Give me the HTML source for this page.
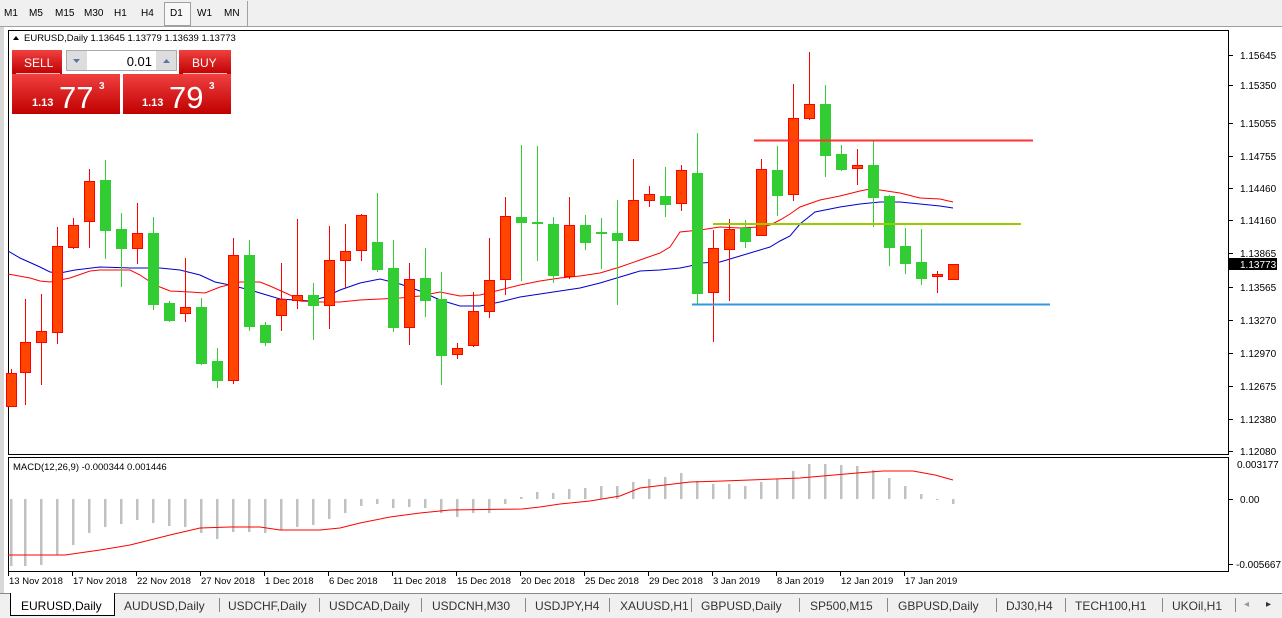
<!DOCTYPE html>
<html><head><meta charset="utf-8"><style>
body{margin:0;width:1282px;height:617px;overflow:hidden;background:#fff;font-family:"Liberation Sans",sans-serif;position:relative}
.tb{position:absolute;left:0;top:0;width:1282px;height:26px;background:#f0f0f0;border-bottom:1px solid #a0a0a0}
.tb span{position:absolute;top:8px;font-size:10px;color:#000}
.d1{position:absolute;left:164px;top:2px;width:25px;height:22px;border:1px solid #a0a0a0;background:#f8f8f8}
.tabs{position:absolute;left:0;top:593px;width:1282px;height:24px;background:#f0f0f0;border-top:1px solid #888}
.tabs span{position:absolute;top:5px;font-size:12px;color:#333}
.sep{position:absolute;top:4px;width:1px;height:14px;background:#888}
</style></head><body>
<div class="tb">
<span style="left:4px">M1</span><span style="left:29px">M5</span><span style="left:55px">M15</span><span style="left:84px">M30</span><span style="left:114px">H1</span><span style="left:141px">H4</span>
<div class="d1"></div><span style="left:170px">D1</span><span style="left:197px">W1</span><span style="left:224px">MN</span>
<div style="position:absolute;left:247px;top:1px;width:1px;height:25px;background:#a0a0a0"></div>
</div>
<div style="position:absolute;left:0;top:27px;width:4px;height:566px;background:#d8d8d8"></div>
<svg id="s" width="1282" height="617" style="position:absolute;left:0;top:0" font-family="Liberation Sans, sans-serif">
<rect x="8.5" y="30.5" width="1220" height="424" fill="#fff" stroke="#000"/>
<rect x="8.5" y="457.5" width="1220" height="114" fill="#fff" stroke="#000"/>
<g id="g"></g>
<rect x="1229" y="258" width="48" height="12" fill="#000"/>
<text x="1240" y="268" font-size="10" fill="#fff">1.13773</text>
<text x="24" y="41" font-size="9.5" fill="#000">EURUSD,Daily  1.13645 1.13779 1.13639 1.13773</text>
<polygon points="13,40 19,40 16,36" fill="#000"/>
<text x="13" y="470" font-size="9.5" fill="#000">MACD(12,26,9) -0.000344 0.001446</text>
<defs><linearGradient id="rg" x1="0" y1="0" x2="0" y2="1"><stop offset="0" stop-color="#f04040"/><stop offset="1" stop-color="#c00000"/></linearGradient></defs>
<rect x="12" y="50" width="50" height="24" fill="url(#rg)"/>
<rect x="179" y="50" width="52" height="24" fill="url(#rg)"/>
<rect x="12" y="74" width="108" height="40" fill="url(#rg)"/>
<rect x="123" y="74" width="108" height="40" fill="url(#rg)"/>
<line x1="16" y1="73.5" x2="60" y2="73.5" stroke="#fbb"/><line x1="183" y1="73.5" x2="227" y2="73.5" stroke="#fbb"/>
<rect x="66.5" y="50.5" width="110" height="20" fill="#fff" stroke="#aaa"/>
<rect x="67" y="51" width="20" height="19" fill="#ddd"/><rect x="156" y="51" width="20" height="19" fill="#ddd"/>
<polygon points="73,59 80,59 76.5,63" fill="#57a"/><polygon points="163,63 170,63 166.5,59" fill="#57a"/>
<text x="24" y="67" font-size="12" fill="#fff">SELL</text>
<text x="192" y="67" font-size="12" fill="#fff">BUY</text>
<text x="152" y="66" font-size="13" fill="#000" text-anchor="end">0.01</text>
<text x="32" y="106" font-size="11" font-weight="bold" fill="#fff">1.13</text>
<text x="59" y="108" font-size="31" fill="#fff">77</text>
<text x="99" y="89" font-size="10" font-weight="bold" fill="#fff">3</text>
<text x="142" y="106" font-size="11" font-weight="bold" fill="#fff">1.13</text>
<text x="169" y="108" font-size="31" fill="#fff">79</text>
<text x="209" y="89" font-size="10" font-weight="bold" fill="#fff">3</text>
</svg>
<div class="tabs">
<div style="position:absolute;left:10px;top:-1px;width:103px;height:22px;background:#fff;border:1px solid #000;border-top:none"></div>
<span style="left:21px;color:#000">EURUSD,Daily</span>
<span style="left:124px">AUDUSD,Daily</span><div class="sep" style="left:219px"></div>
<span style="left:228px">USDCHF,Daily</span><div class="sep" style="left:319px"></div>
<span style="left:329px">USDCAD,Daily</span><div class="sep" style="left:421px"></div>
<span style="left:432px">USDCNH,M30</span><div class="sep" style="left:525px"></div>
<span style="left:535px">USDJPY,H4</span><div class="sep" style="left:609px"></div>
<span style="left:620px">XAUUSD,H1</span><div class="sep" style="left:691px"></div>
<span style="left:701px">GBPUSD,Daily</span><div class="sep" style="left:799px"></div>
<span style="left:810px">SP500,M15</span><div class="sep" style="left:887px"></div>
<span style="left:898px">GBPUSD,Daily</span><div class="sep" style="left:996px"></div>
<span style="left:1006px">DJ30,H4</span><div class="sep" style="left:1065px"></div>
<span style="left:1075px">TECH100,H1</span><div class="sep" style="left:1162px"></div>
<span style="left:1172px">UKOil,H1</span><div class="sep" style="left:1235px"></div>
<span style="left:1244px;color:#999;font-size:10px">◂</span><span style="left:1266px;font-size:10px">▸</span>
</div>
<script>
var C=[[11,373,406,369,406,1],[25,342,372,299,405,1],[41,331,342,294,385,1],[57,246,332,227,344,1],[73,225,247,218,249,1],[89,181,221,169,248,1],[105,180,230,160,259,0],[121,229,248,213,287,0],[137,233,248,203,264,1],[153,233,304,217,310,0],[169,303,320,301,322,0],[185,307,313,258,322,1],[201,307,363,298,365,0],[217,361,380,348,388,0],[233,255,380,238,384,1],[249,255,326,240,331,0],[265,325,342,322,346,0],[281,299,315,263,331,1],[297,295,300,219,309,1],[313,295,305,283,340,0],[329,260,305,226,329,1],[345,251,260,224,288,1],[361,215,250,214,261,1],[377,242,269,193,272,0],[393,268,327,240,332,0],[409,279,327,263,345,1],[425,278,300,248,317,0],[441,299,355,272,385,0],[457,348,354,343,359,1],[473,311,345,292,347,1],[489,280,311,238,318,1],[505,216,279,197,295,1],[521,217,222,145,281,0],[537,222,223,146,261,0],[553,224,275,217,283,0],[569,225,276,197,279,1],[585,225,242,215,250,0],[601,232,233,218,269,0],[617,233,240,200,305,0],[633,200,240,159,240,1],[649,194,200,186,207,1],[665,196,204,167,217,0],[681,170,203,165,211,1],[697,173,293,133,304,0],[713,248,292,230,342,1],[729,229,249,219,301,1],[745,228,241,220,248,0],[761,169,235,159,235,1],[777,170,195,146,216,0],[793,118,194,84,201,1],[809,104,118,52,120,1],[825,104,155,85,177,0],[841,154,169,145,171,0],[857,165,168,149,185,1],[873,165,197,141,227,0],[889,196,247,195,266,0],[905,246,263,228,274,0],[921,262,278,229,285,0],[937,274,276,271,293,1],[953,264,279,264,279,1]];
var H=[[11,566],[25,566],[41,565],[57,555],[73,545],[89,533],[105,527],[121,524],[137,520],[153,523],[169,526],[185,527],[201,533],[217,539],[233,532],[249,532],[265,533],[281,530],[297,527],[313,525],[329,519],[345,513],[361,506],[377,504],[393,508],[409,507],[425,508],[441,513],[457,517],[473,513],[489,513],[505,504],[521,497],[537,492],[553,493],[569,489],[585,488],[601,486],[617,486],[633,482],[649,479],[665,477],[681,473],[697,481],[713,484],[729,484],[745,486],[761,482],[777,479],[793,471],[809,464],[825,464],[841,465],[857,466],[873,470],[889,478],[905,486],[921,494],[937,499],[953,504]];
var s='',Z=499;
H.forEach(function(h){var a=Math.min(h[1],Z),b=Math.max(h[1],Z);s+='<rect x="'+(h[0]-1)+'" y="'+a+'" width="2.5" height="'+Math.max(1,b-a)+'" fill="#c0c0c0"/>';});
s+='<polyline fill="none" stroke="#f00" points="8,555 65,555 100,550 130,545 150,540 170,535 200,528 230,527 260,527 280,530 320,530 340,528 360,523 390,517 420,513 450,510 522,509 540,507 560,504 590,501 620,496 640,488 690,482 723,481 800,478 857,473 883,471 913,471 935,475 953,480"/>';
s+='<polyline fill="none" stroke="#0000cc" points="8,251 20,258 40,267 50,272 60,273 75,270 100,267 130,268 160,268 180,270 200,275 215,282 230,285 250,290 280,299 310,301 325,297 340,290 360,283 380,279 400,284 420,291 440,300 460,306 480,306 500,302 520,297 540,294 560,291 580,288 600,283 620,277 640,271 660,270 680,268 690,266 700,263 720,262 740,256 760,250 770,247 780,241 790,236 800,224 815,212 840,207 860,204 880,202 900,202 920,204 940,206 953,208"/>';
s+='<polyline fill="none" stroke="#f00" points="8,274 30,278 40,281 50,282 70,278 90,271 100,270 130,270 140,275 155,285 170,291 190,292 205,293 220,287 240,282 260,282 270,286 290,295 300,301 320,302 340,302 360,300 380,299 400,298 420,296 440,292 460,296 480,295 500,290 520,285 540,281 560,278 580,276 600,273 620,267 640,260 660,253 670,247 680,232 700,230 720,227 740,228 760,227 770,225 780,220 790,214 800,207 820,200 840,196 860,191 870,189 880,190 900,193 920,198 940,199 953,202"/>';
C.forEach(function(c){var col=c[5]?'#ff0000':'#32cd32',f=c[5]?'#ff4500':'#32cd32';
s+='<line x1="'+(c[0]+.5)+'" y1="'+c[3]+'" x2="'+(c[0]+.5)+'" y2="'+c[4]+'" stroke="'+col+'"/>';
s+='<rect x="'+(c[0]-4.5)+'" y="'+(c[1]+.5)+'" width="10" height="'+Math.max(1,c[2]-c[1])+'" fill="'+f+'" stroke="'+col+'"/>';});
s+='<line x1="754" y1="140.5" x2="1033" y2="140.5" stroke="#f33" stroke-width="2"/>';
s+='<line x1="713" y1="224" x2="1021" y2="224" stroke="#99cc00" stroke-width="2"/>';
s+='<line x1="692" y1="304.5" x2="1050" y2="304.5" stroke="#3399dd" stroke-width="2"/>';
var P=[['1.15645',55],['1.15350',85],['1.15055',123],['1.14755',156],['1.14460',188],['1.14160',220],['1.13865',253],['1.13565',287],['1.13270',320],['1.12970',353],['1.12675',386],['1.12380',419],['1.12080',451]];
P.forEach(function(p){s+='<line x1="1228" y1="'+p[1]+'.5" x2="1233" y2="'+p[1]+'.5" stroke="#000"/><text x="1240" y="'+(p[1]+4)+'" font-size="10" fill="#000">'+p[0]+'</text>';});
s+='<text x="1237" y="468" font-size="10">0.003177</text><line x1="1228" y1="499.5" x2="1233" y2="499.5" stroke="#000"/><text x="1240" y="503" font-size="10">0.00</text><line x1="1228" y1="564.5" x2="1233" y2="564.5" stroke="#000"/><text x="1236" y="568" font-size="10">-0.005667</text>';
var D=['13 Nov 2018','17 Nov 2018','22 Nov 2018','27 Nov 2018','1 Dec 2018','6 Dec 2018','11 Dec 2018','15 Dec 2018','20 Dec 2018','25 Dec 2018','29 Dec 2018','3 Jan 2019','8 Jan 2019','12 Jan 2019','17 Jan 2019'];
D.forEach(function(d,i){var x=8+64*i;s+='<line x1="'+(x+.5)+'" y1="572" x2="'+(x+.5)+'" y2="576" stroke="#000"/><text x="'+(x+1)+'" y="584" font-size="9.5">'+d+'</text>';});
document.getElementById('g').innerHTML=s;
</script>
</body></html>
